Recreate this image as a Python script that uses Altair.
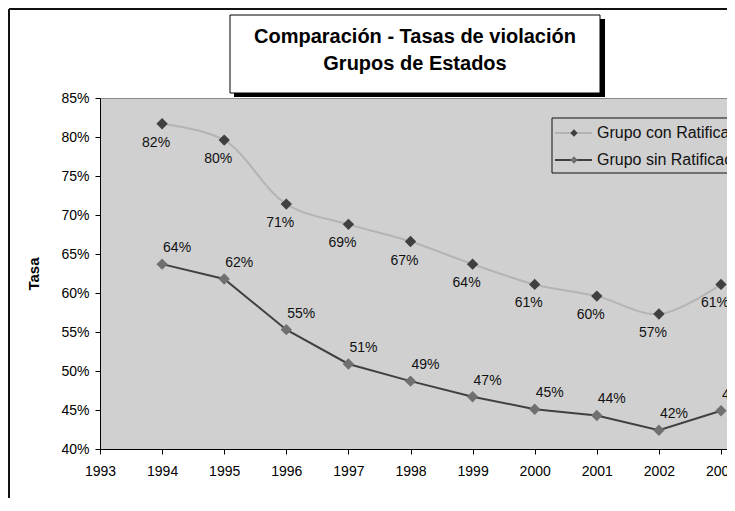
import altair as alt
import pandas as pd

# ---- data ----
years = [1994, 1995, 1996, 1997, 1998, 1999, 2000, 2001, 2002, 2003]
con_ratificacion = [0.817, 0.796, 0.714, 0.688, 0.666, 0.637, 0.611, 0.596, 0.573, 0.611]
sin_ratificacion = [0.637, 0.618, 0.553, 0.509, 0.487, 0.467, 0.451, 0.443, 0.424, 0.449]
series_names = ["Grupo con Ratificación", "Grupo sin Ratificación"]
x_ticks = list(range(1993, 2004))
y_ticks = [0.40, 0.45, 0.50, 0.55, 0.60, 0.65, 0.70, 0.75, 0.80, 0.85]
title_lines = ["Comparación - Tasas de violación", "Grupos de Estados"]
y_title = "Tasa"

FONT = "Liberation Sans"
W, H = 627, 351

con_df = pd.DataFrame({"year": years, "value": con_ratificacion})
sin_df = pd.DataFrame({"year": years, "value": sin_ratificacion})
one = pd.DataFrame({"k": [0]})
leg_df = pd.DataFrame({
    "name": series_names,
    "ly": [35, 62],
    "linecolor": ["#b4b4b4", "#404040"],
    "markcolor": ["#404040", "#707070"],
})

xs = alt.Scale(domain=[1993, 1993 + W / 62.1], nice=False, zero=False)
ys = alt.Scale(domain=[0.40, 0.85], nice=False, zero=False)

X = alt.X("year:Q", scale=xs, axis=alt.Axis(values=x_ticks, format="d", title=None,
                                            labelPadding=10, labelFlush=False, labelOverlap=False,
                                            zindex=2))
Y = alt.Y("value:Q", scale=ys, axis=alt.Axis(values=y_ticks, format=".0%", title=y_title,
                                             labelPadding=6, titleAngle=270, titleX=-67,
                                             titleY=H / 2, titleBaseline="middle",
                                             titleAlign="center", titleFontWeight="bold",
                                             titleFontSize=15, titleFont=FONT, zindex=2))

# outer chart border (left and top edges; the rest lies outside the picture)
border_top = alt.Chart(one).mark_rule(color="#111111", strokeWidth=2).encode(
    x=alt.value(-91), x2=alt.value(W + 40), y=alt.value(-89))
border_left = alt.Chart(one).mark_rule(color="#111111", strokeWidth=2).encode(
    x=alt.value(-91), y=alt.value(-89), y2=alt.value(H + 80))

# plot area background
plotbg = alt.Chart(one).mark_rect(fill="#d0d0d0").encode(
    x=alt.value(0), x2=alt.value(W + 10), y=alt.value(0), y2=alt.value(H))
top_rule = alt.Chart(one).mark_rule(color="#8a8a8a", strokeWidth=1).encode(
    x=alt.value(0), x2=alt.value(W + 10), y=alt.value(0.5))

line_con = alt.Chart(con_df).mark_line(interpolate="catmull-rom", color="#b4b4b4",
                                       strokeWidth=2).encode(x=X, y=Y)
line_sin = alt.Chart(sin_df).mark_line(color="#404040", strokeWidth=2).encode(x=X, y=Y)
pts_con = alt.Chart(con_df).mark_point(shape="diamond", filled=True, size=130,
                                       color="#404040", opacity=1).encode(x=X, y=Y)
pts_sin = alt.Chart(sin_df).mark_point(shape="diamond", filled=True, size=130,
                                       color="#707070", opacity=1).encode(x=X, y=Y)
lab_con = alt.Chart(con_df).mark_text(font=FONT, fontSize=14, color="#111111", dx=-6, dy=19).encode(
    x=X, y=Y, text=alt.Text("value:Q", format=".0%"))
lab_sin = alt.Chart(sin_df).mark_text(font=FONT, fontSize=14, color="#111111", dx=15, dy=-16).encode(
    x=X, y=Y, text=alt.Text("value:Q", format=".0%"))

# legend
leg_box = alt.Chart(one).mark_rect(fill="#d0d0d0", stroke="#111111", strokeWidth=1).encode(
    x=alt.value(452), x2=alt.value(W + 40), y=alt.value(20), y2=alt.value(75))
leg_lines = alt.Chart(leg_df).mark_rule(strokeWidth=2).encode(
    x=alt.value(455), x2=alt.value(492), y=alt.Y("ly:Q", scale=None),
    color=alt.Color("linecolor:N", scale=None))
leg_pts = alt.Chart(leg_df).mark_point(shape="diamond", filled=True, size=55, opacity=1).encode(
    x=alt.value(474), y=alt.Y("ly:Q", scale=None), color=alt.Color("markcolor:N", scale=None))
leg_txt = alt.Chart(leg_df).mark_text(font=FONT, fontSize=16, align="left", baseline="middle",
                                      color="#111111").encode(
    x=alt.value(497), y=alt.Y("ly:Q", scale=None), text="name:N")

# title box
t_shadow = alt.Chart(one).mark_rect(fill="#000000").encode(
    x=alt.value(134), x2=alt.value(505), y=alt.value(-79), y2=alt.value(-1))
t_box = alt.Chart(one).mark_rect(fill="white", stroke="#000000", strokeWidth=1).encode(
    x=alt.value(130), x2=alt.value(500), y=alt.value(-83), y2=alt.value(-5))
t1 = alt.Chart(one).mark_text(font=FONT, fontSize=20, fontWeight="bold", color="black",
                              align="center", baseline="middle").encode(
    x=alt.value(315), y=alt.value(-61), text=alt.value(title_lines[0]))
t2 = alt.Chart(one).mark_text(font=FONT, fontSize=20, fontWeight="bold", color="black",
                              align="center", baseline="middle").encode(
    x=alt.value(315), y=alt.value(-34), text=alt.value(title_lines[1]))

chart = alt.layer(
    border_top, border_left, plotbg, top_rule, line_con, line_sin, pts_con, pts_sin,
    lab_con, lab_sin, leg_box, leg_lines, leg_pts, leg_txt, t_shadow, t_box, t1, t2
).properties(
    width=W, height=H,
    autosize=alt.AutoSizeParams(type="none"),
    padding={"left": 92, "top": 90, "right": 0, "bottom": 49},
    background="white",
).configure_view(
    stroke="transparent"
).configure_axis(
    domainColor="#000000", tickColor="#000000", labelColor="#000000",
    labelFont=FONT, labelFontSize=14, tickSize=5, grid=False, domainWidth=1,
)

chart.save("out.html", embed_options={"renderer": "svg", "actions": False})
